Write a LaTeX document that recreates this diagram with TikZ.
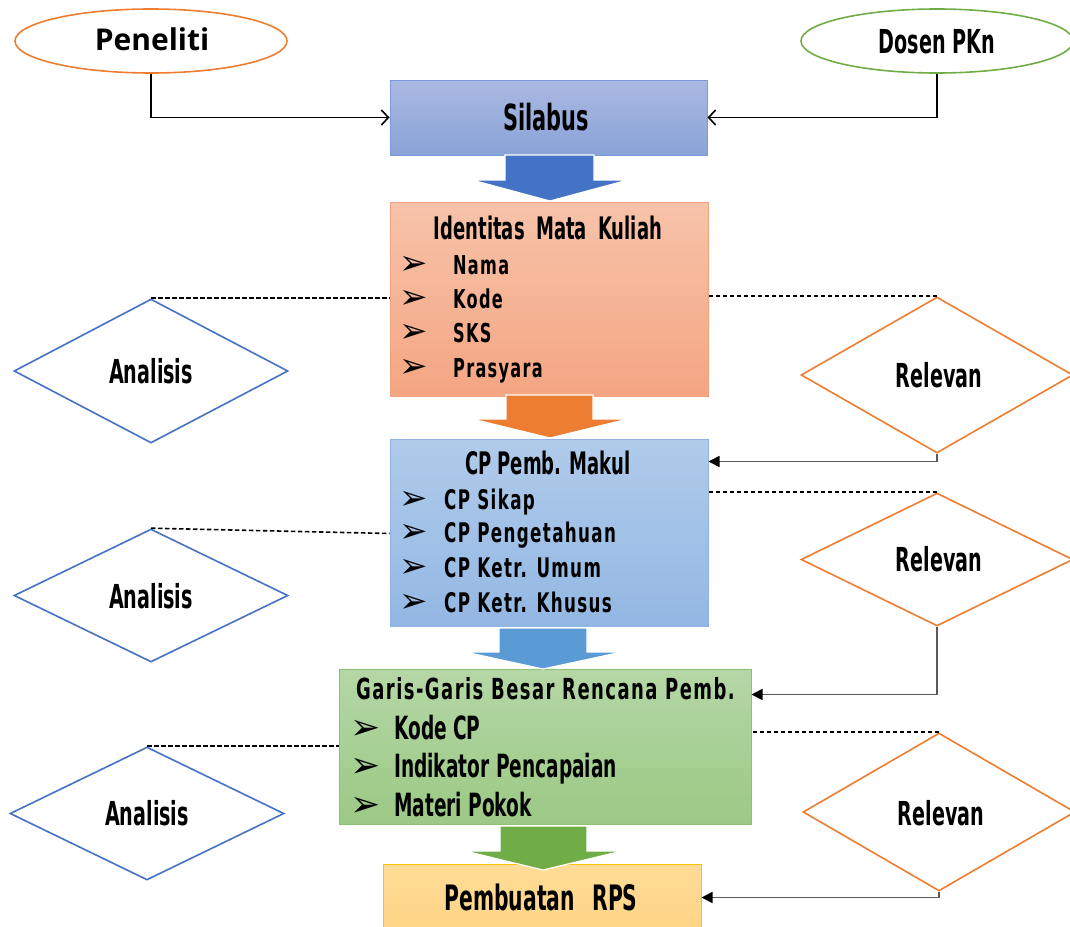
\documentclass[tikz,border=0pt]{standalone}
\usepackage{fontspec}
\usetikzlibrary{shapes.geometric,arrows.meta,calc}
\newfontfamily\ag{DejaVu Sans}[FakeStretch=0.58]
\newfontfamily\agw{DejaVu Sans}[FakeStretch=0.62,LetterSpace=5]
\newfontfamily\gill{Open Sans}
\newfontfamily\sym{DejaVu Sans}
\newcommand\fsz[1]{\fontsize{#1}{#1}\selectfont}
\definecolor{silT}{HTML}{AAB9E1}\definecolor{silB}{HTML}{8AA3D8}\definecolor{silD}{HTML}{7C9BD6}
\definecolor{idT}{HTML}{F7C3AA}\definecolor{idB}{HTML}{F4A582}\definecolor{idD}{HTML}{F4A27C}
\definecolor{cpT}{HTML}{B0CBEA}\definecolor{cpB}{HTML}{93B7E3}\definecolor{cpD}{HTML}{8FB4E3}
\definecolor{gbT}{HTML}{B5D7A6}\definecolor{gbB}{HTML}{9BC985}\definecolor{gbD}{HTML}{8DC174}
\definecolor{rpT}{HTML}{FFDC96}\definecolor{rpB}{HTML}{FFD485}\definecolor{rpD}{HTML}{FFC000}
\definecolor{oraL}{HTML}{ED7D31}\definecolor{bluL}{HTML}{4472C4}\definecolor{grnL}{HTML}{70AD47}
\definecolor{blu2}{HTML}{5B9BD5}\definecolor{grayL}{HTML}{595959}
\tikzset{
  box/.style={draw, line width=1pt, inner sep=0pt},
  txt/.style={inner sep=0pt, anchor=base, font=\ag\bfseries},
  item/.style={inner sep=0pt, anchor=base west, font=\agw\bfseries},
  bul/.style={inner sep=0pt, anchor=base, font=\sym\fsz{34}},
  ana/.style={diamond, draw=bluL, line width=1.6pt, aspect=1.9, inner sep=0pt, minimum width=274pt},
  rel/.style={diamond, draw=oraL, line width=1.6pt, aspect=1.9, inner sep=0pt, minimum width=272pt},
  dashline/.style={dash pattern=on 4.5pt off 2.5pt, line width=1.6pt},
  inarr/.style={line width=1.6pt, -{Straight Barb[length=7pt,width=15pt]}},
  relarr/.style={draw=grayL, line width=1.6pt, -{Triangle[length=11pt,width=11pt,fill=black,color=black]}},
}
\begin{document}
\begin{tikzpicture}[x=1pt,y=-1pt]
\useasboundingbox (0,0) rectangle (1070,926);
% top ellipses
\node[ellipse, draw=oraL, line width=1.6pt, minimum width=272pt, minimum height=64pt] (pen) at (151,41) {};
\node[txt, font=\gill\bfseries\fsz{30}] (penT) at (152,50) {Peneliti};
\node[ellipse, draw=grnL, line width=1.6pt, minimum width=272pt, minimum height=64pt] (dos) at (937,41) {};
\node[txt, font=\ag\bfseries\fsz{33}] (dosT) at (937,53) {Dosen PKn};
% boxes
\node[box, draw=silD, top color=silT, bottom color=silB, minimum width=317pt, minimum height=75pt] (sil) at (548.5,117.5) {};
\node[txt, font=\ag\bfseries\fsz{36}] (silT) at (546,130) {Silabus};

\node[box, draw=idD, top color=idT, bottom color=idB, minimum width=318pt, minimum height=194pt] (idb) at (549,299) {};
\node[txt, font=\ag\bfseries\fsz{31}] (idT) at (548,239) {Identitas\, Mata\, Kuliah};
\node[bul] (b21) at (414,274) {➢};\node[item, font=\agw\bfseries\fsz{26}] (i21) at (453,274) {Nama};
\node[bul] (b22) at (414,308) {➢};\node[item, font=\agw\bfseries\fsz{26}] (i22) at (453,308) {Kode};
\node[bul] (b23) at (414,342) {➢};\node[item, font=\agw\bfseries\fsz{26}] (i23) at (453,342) {SKS};
\node[bul] (b24) at (414,377) {➢};\node[item, font=\agw\bfseries\fsz{26}] (i24) at (453,377) {Prasyara};

\node[box, draw=cpD, top color=cpT, bottom color=cpB, minimum width=318pt, minimum height=187pt] (cpb) at (549,532.5) {};
\node[txt, font=\ag\bfseries\fsz{31}] (cpT) at (548,474) {CP Pemb. Makul};
\node[bul] (b31) at (414,509) {➢};\node[item, font=\agw\bfseries\fsz{27}] (i31) at (444,509) {CP Sikap};
\node[bul] (b32) at (414,542) {➢};\node[item, font=\agw\bfseries\fsz{27}] (i32) at (444,542) {CP Pengetahuan};
\node[bul] (b33) at (414,577) {➢};\node[item, font=\agw\bfseries\fsz{27}] (i33) at (444,577) {CP Ketr. Umum};
\node[bul] (b34) at (414,612) {➢};\node[item, font=\agw\bfseries\fsz{27}] (i34) at (444,612) {CP Ketr. Khusus};

\node[box, draw=gbD, top color=gbT, bottom color=gbB, minimum width=412pt, minimum height=155pt] (ggb) at (545,746.5) {};
\node[item, font=\agw\bfseries\fsz{29}] (ggT) at (356,699) {Garis-Garis Besar Rencana Pemb.};
\node[bul, font=\sym\fsz{36}] (b41) at (366,739) {➢};\node[item, font=\ag\bfseries\fsz{32}] (i41) at (394,739) {Kode CP};
\node[bul, font=\sym\fsz{36}] (b42) at (366,777) {➢};\node[item, font=\ag\bfseries\fsz{32}] (i42) at (394,777) {Indikator Pencapaian};
\node[bul, font=\sym\fsz{36}] (b43) at (366,816) {➢};\node[item, font=\ag\bfseries\fsz{32}] (i43) at (394,816) {Materi Pokok};

\node[box, draw=rpD, top color=rpT, bottom color=rpB, minimum width=318pt, minimum height=72pt] (rps) at (542,900) {};
\node[txt, font=\ag\bfseries\fsz{35}] (rpT) at (541,910) {Pembuatan\enspace RPS};

% block arrows
\filldraw[fill=bluL, draw=white, line width=1.2pt] (505,155) -- (594,155) -- (594,180) -- (628,180) -- (550,201) -- (472,180) -- (505,180) -- cycle;
\filldraw[fill=oraL, draw=white, line width=1.2pt] (506,395) -- (593,395) -- (593,419) -- (628,419) -- (550,438) -- (472,419) -- (506,419) -- cycle;
\filldraw[fill=blu2, draw=white, line width=1.2pt] (499,628) -- (587,628) -- (587,652) -- (622,652) -- (543,669) -- (465,652) -- (499,652) -- cycle;
\filldraw[fill=grnL, draw=white, line width=1.2pt] (500,826) -- (587,826) -- (587,851) -- (622,851) -- (543,870) -- (465,851) -- (500,851) -- cycle;

% diamonds
\node[ana, minimum height=144pt] (a1) at (151,371) {};
\node[txt, font=\ag\bfseries\fsz{33}] (a1T) at (151,383) {Analisis};
\node[ana, minimum height=133pt] (a2) at (151,595.5) {};
\node[txt, font=\ag\bfseries\fsz{33}] (a2T) at (151,608) {Analisis};
\node[ana, minimum height=133pt] (a3) at (147,813.5) {};
\node[txt, font=\ag\bfseries\fsz{33}] (a3T) at (147,825) {Analisis};
\node[rel, minimum height=156pt] (r1) at (937,375) {};
\node[txt, font=\ag\bfseries\fsz{33}] (r1T) at (939,387) {Relevan};
\node[rel, minimum height=133pt] (r2) at (937,559.5) {};
\node[txt, font=\ag\bfseries\fsz{33}] (r2T) at (939,571) {Relevan};
\node[rel, minimum height=158pt] (r3) at (939,812) {};
\node[txt, font=\ag\bfseries\fsz{33}] (r3T) at (941,825) {Relevan};

% input arrows
\draw[inarr] (pen.south) |- (sil.west);
\draw[inarr] (dos.south) |- (sil.east);

% dashed links
\draw[dashline] (a1.north) -- (a1.north -| idb.west);
\draw[dashline] (a2.north) -- ($(cpb.north west)+(0,95)$);
\draw[dashline] (a3.north) -- (a3.north -| ggb.west);
\draw[dashline] (r1.north) -- (r1.north -| idb.east);
\draw[dashline] (r2.north) -- (r2.north -| cpb.east);
\draw[dashline] (r3.north) -- (r3.north -| ggb.east);

% relevan arrows
\draw[relarr] (r1.south) |- ($(cpb.north east)+(0,23)$);
\draw[relarr] (r2.south) |- ($(ggb.north east)+(0,26)$);
\draw[relarr] (r3.south) |- ($(rps.north east)+(0,34)$);
\end{tikzpicture}
\end{document}
